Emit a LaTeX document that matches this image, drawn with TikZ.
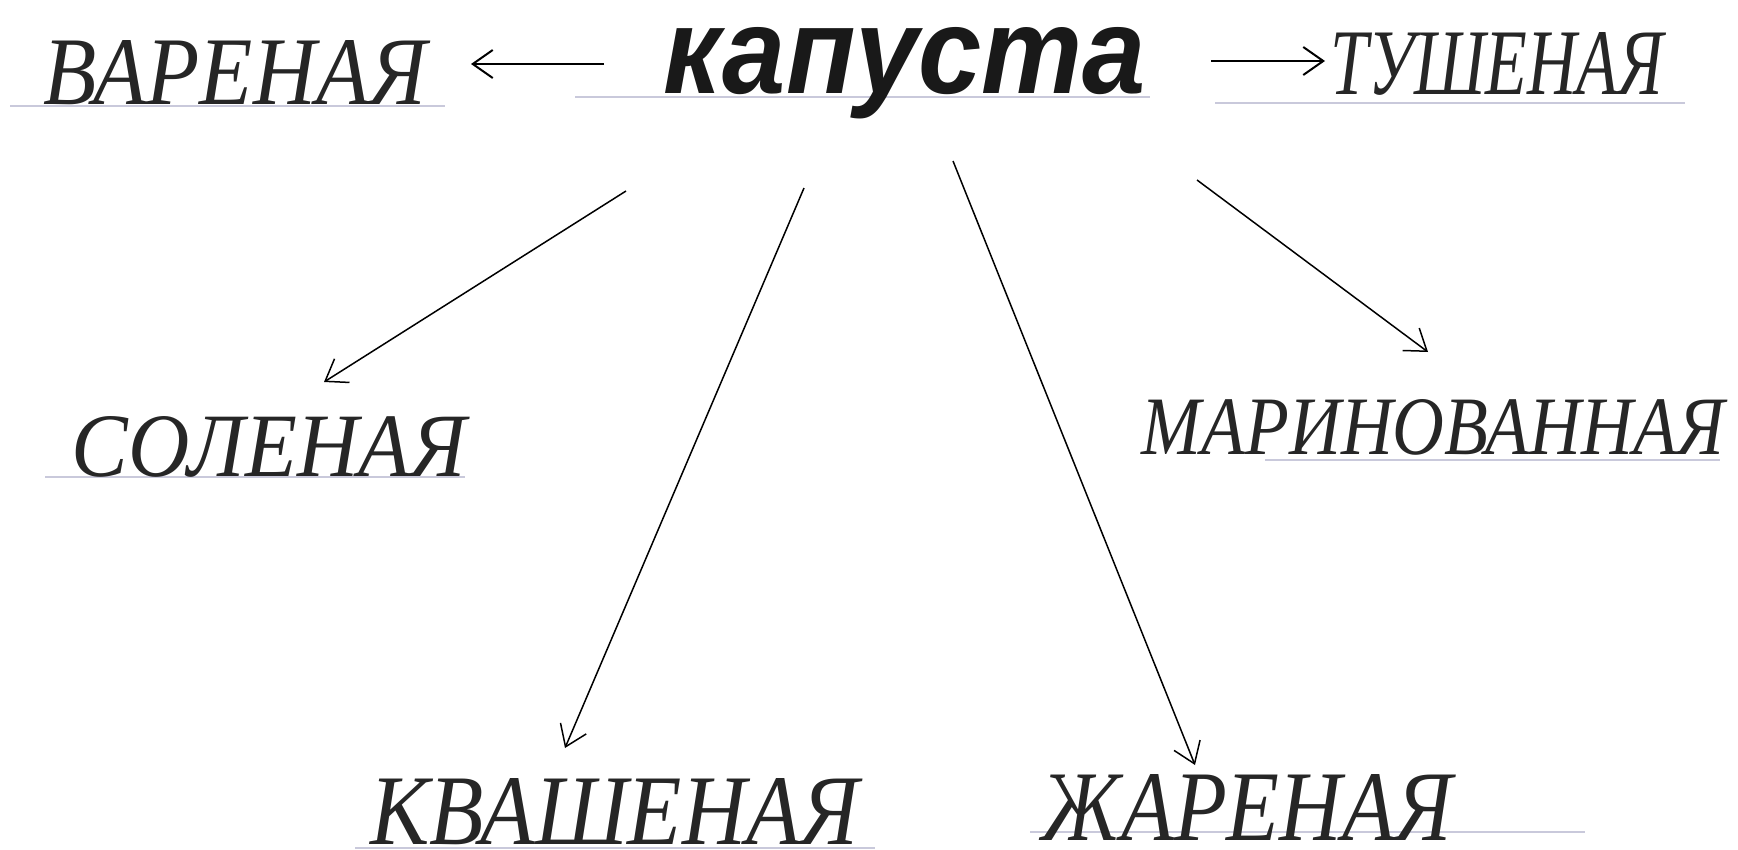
\documentclass[tikz,border=0pt]{standalone}
\usepackage{fontspec}
\usepackage{graphicx}
\usetikzlibrary{arrows.meta}
\setmainfont{Liberation Serif}
\newfontfamily\kapfont{Liberation Sans}

% слово, вписанное в заданную ширину и высоту (без выносных элементов)
\newcommand{\handword}[3]{\resizebox{#1pt}{#2pt}{\itshape #3}}

\begin{document}
\begin{tikzpicture}[x=1pt, y=-1pt, line width=2pt, >={Straight Barb[length=20pt,width=28pt]}]
        \useasboundingbox (0,0) rectangle (1738,849);
        \tikzset{ruled/.style={draw=blue!20!gray!35, line width=1.6pt},
                 word/.style={inner sep=0pt, anchor=base, text=black!85}}

        % линейки тетради под словами
        \draw[ruled] (10,106) -- (445,106);
        \draw[ruled] (575,97) -- (1150,97);
        \draw[ruled] (1215,103) -- (1685,103);
        \draw[ruled] (45,477) -- (465,477);
        \draw[ruled] (1265,460) -- (1720,460);
        \draw[ruled] (355,848) -- (875,848);
        \draw[ruled] (1030,832) -- (1585,832);

        % центральное слово
        \node[word, text=black!90] (kapusta) at (905,93) {\resizebox{482pt}{66pt}{\kapfont\bfseries\itshape капуста}};

        % виды капусты
        \node[word] (varenaya) at (235,104) {\handword{383}{64}{ВАРЕНАЯ}};
        \node[word] (tushenaya) at (1497,94) {\handword{333}{62}{ТУШЕНАЯ}};
        \node[word] (solenaya) at (269,476) {\handword{394}{60}{СОЛЕНАЯ}};
        \node[word] (marinovannaya) at (1433,454) {\handword{582}{55}{МАРИНОВАННАЯ}};
        \node[word] (kvashenaya) at (615,844) {\handword{488}{66}{КВАШЕНАЯ}};
        \node[word] (zharenaya) at (1247,840) {\handword{410}{66}{ЖАРЕНАЯ}};

        % концы стрелок
        \coordinate (kL) at (604,64);   \coordinate (vR) at (471,64);
        \coordinate (kR) at (1211,61);  \coordinate (tL) at (1325,61);
        \coordinate (k1) at (626,191);  \coordinate (s1) at (324,382);
        \coordinate (k2) at (804,188);  \coordinate (q1) at (565,748);
        \coordinate (k3) at (953,161);  \coordinate (z1) at (1195,765);
        \coordinate (k4) at (1197,180); \coordinate (m1) at (1428,352);

        \draw[->] (kL) -- (vR);
        \draw[->] (kR) -- (tL);
        \draw[->, line width=1.5pt] (k1) -- (s1);
        \draw[->, line width=1.5pt] (k2) -- (q1);
        \draw[->, line width=1.5pt] (k3) -- (z1);
        \draw[->, line width=1.5pt] (k4) -- (m1);
\end{tikzpicture}
\end{document}
